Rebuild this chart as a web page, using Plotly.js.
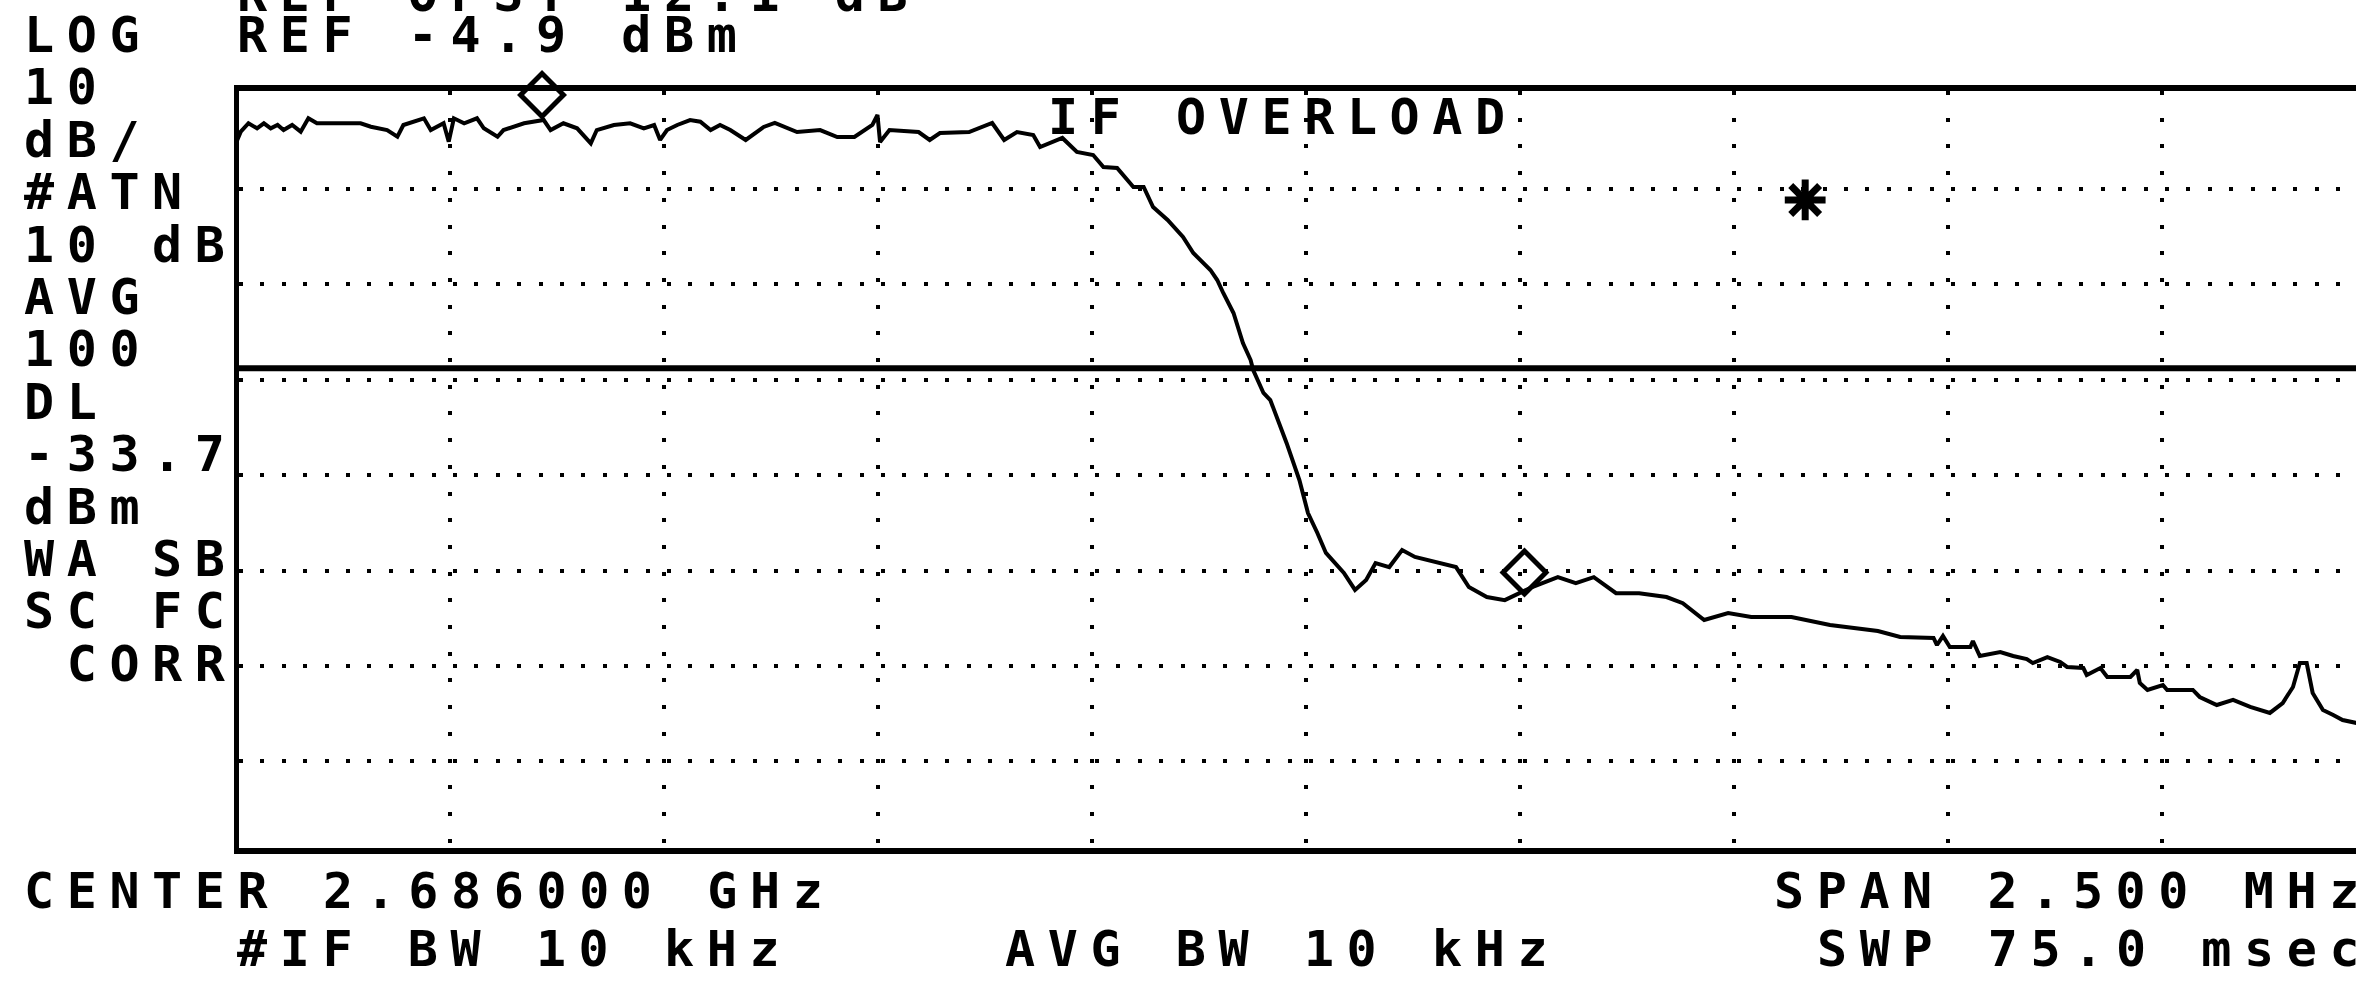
<!DOCTYPE html>
<html><head><meta charset="utf-8">
<script src="https://cdn.plot.ly/plotly-3.0.1.min.js"></script>
<style>
html,body{margin:0;padding:0;background:#fff;overflow:hidden;}
#chart{width:2356px;height:988px;}
text.annotation-text{letter-spacing:12.6px;white-space:pre;}
</style></head><body><div id="chart"></div><script>
// Instrument settings
const refLevel = -4.9;      // dBm (top graticule)
const dbPerDiv = 10;
const displayLine = -33.7;  // dBm
const centerMHz = 2686.0;
const spanMHz = 2.5;

// Trace (frequency in MHz, level in dBm)
const freqMHz = [
2684.750,2684.755,2684.764,2684.774,2684.782,2684.790,2684.798,2684.805,2684.815,2684.825,
2684.834,2684.844,2684.871,2684.895,2684.907,2684.926,2684.938,2684.945,2684.969,2684.977,
2684.992,2684.998,2685.004,2685.016,2685.031,2685.039,2685.055,2685.062,2685.086,2685.109,
2685.117,2685.132,2685.148,2685.164,2685.171,2685.191,2685.210,2685.226,2685.238,2685.245,
2685.253,2685.265,2685.280,2685.292,2685.304,2685.315,2685.327,2685.345,2685.366,2685.379,
2685.405,2685.432,2685.452,2685.472,2685.493,2685.499,2685.502,2685.513,2685.547,2685.560,
2685.572,2685.606,2685.633,2685.647,2685.662,2685.681,2685.689,2685.715,2685.732,2685.751,
2685.763,2685.779,2685.798,2685.810,2685.821,2685.838,2685.856,2685.868,2685.888,2685.896,
2685.903,2685.915,2685.926,2685.935,2685.938,2685.950,2685.958,2685.977,2685.992,2686.002,
2686.013,2686.023,2686.044,2686.057,2686.070,2686.081,2686.097,2686.112,2686.127,2686.159,
2686.175,2686.190,2686.211,2686.232,2686.264,2686.294,2686.315,2686.336,2686.362,2686.389,
2686.421,2686.440,2686.465,2686.493,2686.520,2686.567,2686.612,2686.668,2686.694,2686.733,
2686.737,2686.744,2686.752,2686.776,2686.779,2686.787,2686.811,2686.826,2686.842,2686.849,
2686.866,2686.881,2686.889,2686.908,2686.912,2686.928,2686.936,2686.963,2686.971,2686.974,
2686.983,2687.001,2687.006,2687.036,2687.044,2687.064,2687.083,2687.103,2687.126,2687.141,
2687.153,2687.161,2687.169,2687.176,2687.188,2687.200,2687.211,2687.227,2687.250
];
const levelDbm = [
-9.94,-8.89,-8.01,-8.54,-8.01,-8.54,-8.19,-8.72,-8.19,-8.89,
-7.49,-8.01,-8.01,-8.01,-8.37,-8.72,-9.42,-8.19,-7.49,-8.72,
-8.01,-9.94,-7.49,-8.01,-7.49,-8.54,-9.42,-8.72,-8.01,-7.67,
-8.72,-8.01,-8.54,-10.11,-8.72,-8.19,-8.01,-8.54,-8.19,-9.76,
-8.72,-8.19,-7.67,-7.85,-8.72,-8.19,-8.72,-9.76,-8.40,-7.98,
-8.93,-8.72,-9.45,-9.45,-8.19,-7.14,-9.97,-8.72,-8.93,-9.76,
-9.03,-8.93,-7.98,-9.76,-8.93,-9.24,-10.50,-9.55,-11.02,-11.34,
-12.59,-12.70,-14.69,-14.69,-16.79,-18.15,-19.93,-21.61,-23.39,-24.44,
-25.80,-27.90,-31.04,-32.83,-33.87,-36.28,-37.02,-41.52,-45.40,-48.86,
-50.96,-53.05,-55.15,-56.93,-55.89,-54.11,-54.53,-52.74,-53.47,-54.11,
-54.53,-56.62,-57.67,-58.00,-56.62,-55.59,-56.22,-55.59,-57.27,-57.27,
-57.67,-58.32,-60.08,-59.35,-59.77,-59.77,-60.61,-61.23,-61.86,-61.96,
-62.70,-61.76,-62.91,-62.91,-62.28,-63.85,-63.43,-63.85,-64.17,-64.59,
-63.96,-64.48,-65.00,-65.11,-65.84,-65.11,-66.05,-66.05,-65.32,-66.68,
-67.41,-66.89,-67.41,-67.41,-68.15,-68.99,-68.46,-69.19,-69.82,-68.78,
-67.10,-64.59,-64.59,-67.73,-69.51,-70.04,-70.56,-70.87,-71.20
];

// Markers
const markerFreq = [2685.107, 2686.255];
const markerLevel = [-5.05, -55.1];
const starFreq = [2686.583];
const starLevel = [-16.05];

// Screen annotations text
const leftLabels = ["LOG","10","dB/","#ATN","10 dB","AVG","100","DL","-33.7","dBm","WA SB","SC FC"," CORR"];
const topLine0 = "REF OFST 12.1 dB";
const topLine1 = "REF -4.9 dBm";
const overloadText = "IF OVERLOAD";
const bottomLeft1 = "CENTER 2.686000 GHz";
const bottomLeft2 = "#IF BW 10 kHz";
const bottomMid2 = "AVG BW 10 kHz";
const bottomRight1 = "SPAN 2.500 MHz";
const bottomRight2 = "SWP 75.0 msec";

// ---- layout geometry (pixels) ----
const W = 2356, H = 988;
const PL = 238.5, PR = 2356, PT = 91, PB = 848;
const gridX0 = 236, pxPerMHz = 856;     // left graticule and horizontal scale
const refY = 93.6, pxPerDb = 9.54;      // top graticule and vertical scale
const colW = 42.7, col0 = 21;
const rowH = 52.4, row0 = 35;

const startMHz = centerMHz - spanMHz/2;
const xRange = [startMHz + (PL - gridX0)/pxPerMHz, startMHz + (PR - gridX0)/pxPerMHz];
const yRange = [refLevel - (PB - refY)/pxPerDb, refLevel + (refY - PT)/pxPerDb];

function px(X){ return (X - PL) / (PR - PL); }
function py(Y){ return (PB - Y) / (PB - PT); }

const font = {family: "DejaVu Sans Mono", size: 50, color: "#000", weight: "bold"};
function ann(text, col, Y){
  return {text: text, xref: "paper", yref: "paper", x: px(col0 + col*colW), y: py(Y),
          xanchor: "left", yanchor: "middle", valign: "middle", height: 46,
          showarrow: false, font: font};
}

const annotations = [];
leftLabels.forEach((t, i) => annotations.push(ann(t, 0, row0 + i*rowH)));
annotations.push(ann(topLine0, 5, -6));
annotations.push(ann(topLine1, 5, row0));
annotations.push(ann(overloadText, 24, 117));
annotations.push(ann(bottomLeft1, 0, 891));
annotations.push(ann(bottomLeft2, 5, 949));
annotations.push(ann(bottomMid2, 23, 949));
annotations.push(ann(bottomRight1, 41, 891));
annotations.push(ann(bottomRight2, 42, 949));

const xTicks = [], yTicks = [];
for (let k = 1; k <= 9; k++) xTicks.push(startMHz + k*spanMHz/10);
for (let k = 1; k <= 7; k++) yTicks.push(refLevel - k*dbPerDiv);

const traces = [
  {x: freqMHz, y: levelDbm, type: "scatter", mode: "lines",
   line: {color: "#000", width: 4}, hoverinfo: "skip"},
  {x: markerFreq, y: markerLevel, type: "scatter", mode: "markers", cliponaxis: false,
   marker: {symbol: "diamond-open", size: 33, color: "#000", line: {color: "#000", width: 5}}},
  {x: starFreq, y: starLevel, type: "scatter", mode: "markers", cliponaxis: false,
   marker: {symbol: "asterisk-open", size: 34, color: "#000", line: {color: "#000", width: 7}}}
];

const layout = {
  width: W, height: H,
  margin: {l: PL, r: W - PR, t: PT, b: H - PB, pad: 0},
  paper_bgcolor: "#fff", plot_bgcolor: "#fff",
  showlegend: false,
  xaxis: {range: xRange, tickmode: "array", tickvals: xTicks,
          showticklabels: false, ticks: "", zeroline: false,
          showgrid: true, gridcolor: "#000", gridwidth: 4, griddash: "4px,22.7px",
          showline: true, linecolor: "#000", linewidth: 6, mirror: true, fixedrange: true},
  yaxis: {range: yRange, tickmode: "array", tickvals: yTicks,
          showticklabels: false, ticks: "", zeroline: false,
          showgrid: true, gridcolor: "#000", gridwidth: 4, griddash: "4px,17.4px",
          showline: true, linecolor: "#000", linewidth: 5, mirror: false, fixedrange: true},
  shapes: [{type: "line", xref: "paper", x0: 0, x1: 1, yref: "y",
            y0: displayLine, y1: displayLine, line: {color: "#000", width: 6}}],
  annotations: annotations
};

Plotly.newPlot("chart", traces, layout, {staticPlot: true, displayModeBar: false});
</script></body></html>
